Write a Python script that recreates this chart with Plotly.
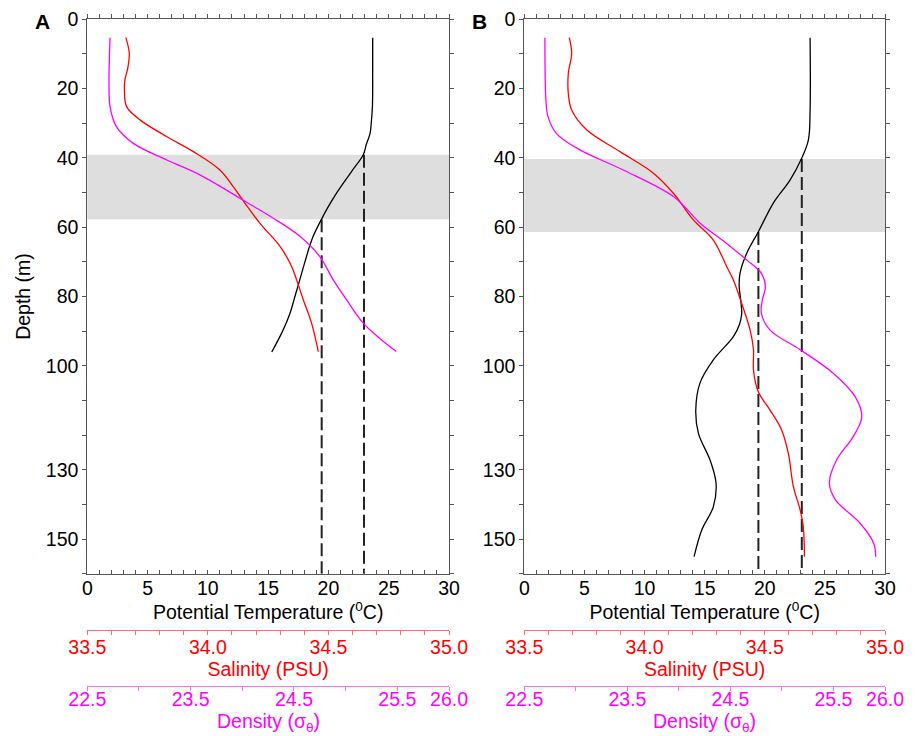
import plotly.graph_objects as go

# ---------------- data ----------------
# Panel A
depth_A_temp = [5.3, 15, 25, 30, 33, 36, 39, 44, 50, 54, 57.6, 63, 70, 75, 80, 85, 90, 96]
temp_A = [23.67, 23.67, 23.65, 23.55, 23.45, 23.15, 22.9, 21.9, 20.7, 20.0, 19.44, 18.69, 18.05, 17.64, 17.22, 16.8, 16.2, 15.3]

depth_A_sal = [5.3, 9.8, 14, 17.5, 20.4, 25.2, 29.1, 33.9, 38.2, 43.5, 48.3, 53.1, 58.9, 65.6, 71, 75.2, 81, 87.7, 95.9]
sal_A = [33.66, 33.674, 33.668, 33.656, 33.654, 33.663, 33.72, 33.83, 33.94, 34.05, 34.105, 34.154, 34.216, 34.30, 34.345, 34.368, 34.396, 34.43, 34.458]

depth_A_den = [5.3, 18.6, 25.2, 30.9, 35.8, 40.6, 44.9, 52.6, 57.4, 62.7, 68.5, 75.2, 81, 87.7, 91.6, 95.9]
den_A = [22.72, 22.71, 22.72, 22.78, 22.945, 23.27, 23.59, 24.03, 24.30, 24.56, 24.75, 24.88, 25.01, 25.17, 25.31, 25.49]

band_A = [39.1, 57.7]          # depth of shaded layer (m)
dash_A_temp = [19.44, 22.95]   # temperatures of dashed verticals
dash_A_top = [57.7, 39.1]      # start depth of dashed verticals

# Panel B
depth_B_temp = [5.3, 26.2, 34.8, 40.1, 46.4, 53.1, 61.3, 67.5, 73.3, 77, 81, 85, 88, 91.6, 98.3, 105, 112.8, 119.5, 127.2, 133.9, 140.7, 147.4, 155.1]
temp_B = [23.77, 23.77, 23.63, 23.07, 22.10, 20.7, 19.47, 18.5, 17.94, 17.87, 18.0, 18.08, 17.9, 17.39, 15.72, 14.61, 14.26, 14.48, 15.45, 15.95, 15.72, 14.76, 14.12]

depth_B_sal = [5.3, 9.8, 15.6, 21.4, 26.2, 31.9, 38.2, 44.4, 50.2, 57.9, 63.7, 71.4, 75.2, 82, 89.7, 95.4, 101.2, 107.5, 112.8, 118.5, 125.3, 134.9, 141.6, 146.4, 155.1]
sal_B = [33.687, 33.697, 33.683, 33.683, 33.697, 33.759, 33.898, 34.037, 34.12, 34.203, 34.286, 34.342, 34.369, 34.404, 34.439, 34.453, 34.453, 34.473, 34.522, 34.57, 34.598, 34.619, 34.647, 34.66, 34.665]

depth_B_den = [5.3, 23.3, 28.1, 32.9, 37.7, 43.5, 51.2, 58.9, 64.6, 69.5, 73.3, 77.2, 81, 84.8, 89.7, 95.4, 102.2, 108.9, 114.7, 120.5, 127.2, 133.9, 138.7, 145.5, 151.2, 155.1]
den_B = [22.70, 22.71, 22.73, 22.81, 23.04, 23.46, 23.95, 24.21, 24.46, 24.66, 24.80, 24.84, 24.81, 24.80, 24.885, 25.18, 25.50, 25.71, 25.775, 25.69, 25.53, 25.46, 25.52, 25.76, 25.89, 25.91]

band_B = [40.3, 61.4]
dash_B_temp = [19.47, 23.08]
dash_B_top = [61.4, 40.3]

# axis tick definitions
depth_ticks = list(range(0, 161, 10))
depth_labels = {0: "0", 20: "20", 40: "40", 60: "60", 80: "80", 100: "100", 130: "130", 150: "150"}
temp_ticks = list(range(0, 31))
sal_ticks = [round(33.5 + 0.1 * i, 1) for i in range(16)]
sal_labels = {33.5: "33.5", 34.0: "34.0", 34.5: "34.5", 35.0: "35.0"}
den_ticks = [22.5, 23.0, 23.5, 24.0, 24.5, 25.0, 25.5, 26.0]
den_labels = {22.5: "22.5", 23.5: "23.5", 24.5: "24.5", 25.5: "25.5", 26.0: "26.0"}

MAX_DEPTH = 160

# ---------------- geometry helpers ----------------
OFF = 8  # page body margin
W, H = 917 - OFF, 736 - OFF
def fx(p):
    return (p - OFF) / W
def fy(p):
    return 1 - (p - OFF) / H

FONT = "Liberation Sans, Arial, Helvetica, sans-serif"
FS = 19.5
AXC = "#555555"
RED = "#ff0000"
MAG = "#ff00ff"

fig = go.Figure()

panels = [
    dict(name="A", xs=(87.3, 449.0), dT=depth_A_temp, T=temp_A, dS=depth_A_sal, S=sal_A,
         dD=depth_A_den, D=den_A, band=band_A, dash_t=dash_A_temp, dash_top=dash_A_top,
         ax=["x", "x2", "x3", "x4"], yax="y", ytitle="Depth (m)"),
    dict(name="B", xs=(524.3, 885.0), dT=depth_B_temp, T=temp_B, dS=depth_B_sal, S=sal_B,
         dD=depth_B_den, D=den_B, band=band_B, dash_t=dash_B_temp, dash_top=dash_B_top,
         ax=["x5", "x6", "x7", "x8"], yax="y2", ytitle=""),
]

ydom = [fy(573.7), fy(19.3)]
layout = dict(
    width=W, height=H, margin=dict(l=0, r=0, t=0, b=0),
    paper_bgcolor="white", plot_bgcolor="white", showlegend=False,
    font=dict(family=FONT, size=FS, color="black"),
)

def axname(a):
    return "xaxis" if a == "x" else "xaxis" + a[1:]

def yname(a):
    return "yaxis" if a == "y" else "yaxis" + a[1:]

shapes = []
annotations = []
for p in panels:
    xt, xtop, xs, xd = p["ax"]
    ya = p["yax"]
    dom = [fx(p["xs"][0]), fx(p["xs"][1])]

    # shaded band
    shapes.append(dict(type="rect", xref=xt + " domain", yref=ya, x0=0, x1=1,
                       y0=p["band"][0], y1=p["band"][1], fillcolor="#dedede",
                       line=dict(width=0), layer="below"))

    # dashed verticals
    for t, top in zip(p["dash_t"], p["dash_top"]):
        fig.add_trace(go.Scatter(x=[t, t], y=[top, MAX_DEPTH], mode="lines", xaxis=xt, yaxis=ya,
                                 line=dict(color="#222222", width=2, dash="13px,5px"),
                                 hoverinfo="skip"))
    # profiles
    fig.add_trace(go.Scatter(x=p["S"], y=p["dS"], mode="lines", xaxis=xs, yaxis=ya,
                             line=dict(color=RED, width=1.3, shape="spline", smoothing=1.0)))
    fig.add_trace(go.Scatter(x=p["D"], y=p["dD"], mode="lines", xaxis=xd, yaxis=ya,
                             line=dict(color=MAG, width=1.3, shape="spline", smoothing=1.0)))
    fig.add_trace(go.Scatter(x=p["T"], y=p["dT"], mode="lines", xaxis=xt, yaxis=ya,
                             line=dict(color="black", width=1.3, shape="spline", smoothing=1.0)))
    # dummy trace to realise the top tick axis
    fig.add_trace(go.Scatter(x=[None], y=[None], mode="lines", xaxis=xtop, yaxis=ya,
                             showlegend=False, hoverinfo="skip"))

    # temperature (bottom) axis
    layout[axname(xt)] = dict(
        domain=dom, range=[0, 30], anchor=ya, side="bottom",
        tickmode="array", tickvals=temp_ticks,
        ticktext=[str(v) if v % 5 == 0 else "" for v in temp_ticks],
        ticks="inside", ticklen=4, tickcolor=AXC, tickwidth=1,
        showline=True, linecolor=AXC, linewidth=1, mirror=True,
        showgrid=False, zeroline=False, automargin=False,
        ticklabelstandoff=-3,
        tickfont=dict(size=FS, color="black"),
        title=dict(text="Potential Temperature (<sup>0</sup>C)", font=dict(size=FS, color="black"), standoff=0),
    )
    # top tick axis
    layout[axname(xtop)] = dict(
        overlaying=xt, range=[0, 30], anchor=ya, side="top",
        tickmode="array", tickvals=temp_ticks, showticklabels=False,
        ticks="outside", ticklen=4, tickcolor=AXC, tickwidth=1,
        showline=False, showgrid=False, zeroline=False, automargin=False,
    )
    # salinity axis
    layout[axname(xs)] = dict(
        overlaying=xt, range=[33.5, 35.0], anchor="free", position=fy(630), side="bottom",
        tickmode="array", tickvals=sal_ticks, ticktext=[sal_labels.get(v, "") for v in sal_ticks],
        ticks="outside", ticklen=4, tickcolor="#ff6a6a", tickwidth=1,
        showline=True, linecolor="#ff6a6a", linewidth=1,
        showgrid=False, zeroline=False, automargin=False,
        ticklabelstandoff=-4,
        tickfont=dict(size=FS, color=RED),
        title=dict(text="Salinity (PSU)", font=dict(size=FS, color=RED), standoff=0),
    )
    # density axis
    layout[axname(xd)] = dict(
        overlaying=xt, range=[22.5, 26.0], anchor="free", position=fy(686), side="bottom",
        tickmode="array", tickvals=den_ticks, ticktext=[den_labels.get(v, "") for v in den_ticks],
        ticks="outside", ticklen=4, tickcolor="#ff6aff", tickwidth=1,
        showline=True, linecolor="#ff6aff", linewidth=1,
        showgrid=False, zeroline=False, automargin=False,
        ticklabelstandoff=-8,
        tickfont=dict(size=FS, color=MAG),
    )
    # density axis title (placed as annotation for exact vertical position)
    annotations.append(dict(text="Density (σ<sub>θ</sub>)", xref="paper", yref="paper",
                            x=(dom[0] + dom[1]) / 2, y=fy(722), xanchor="center", yanchor="middle",
                            showarrow=False, font=dict(size=FS, color=MAG)))
    # depth axis
    layout[yname(ya)] = dict(
        domain=ydom, range=[MAX_DEPTH, 0], anchor=xt,
        tickmode="array", tickvals=depth_ticks, ticktext=[depth_labels.get(v, "") for v in depth_ticks],
        ticks="outside", ticklen=4, tickcolor=AXC, tickwidth=1,
        showline=True, linecolor=AXC, linewidth=1, mirror="ticks",
        showgrid=False, zeroline=False, automargin=False,
        tickfont=dict(size=FS, color="black"),
        title=dict(text=p["ytitle"], font=dict(size=FS, color="black"), standoff=10),
    )
    # panel letter
    annotations.append(dict(text="<b>%s</b>" % p["name"], xref="paper", yref="paper",
                            x=fx(p["xs"][0] - 45), y=1.0, xanchor="center", yanchor="top",
                            showarrow=False, font=dict(size=21, color="black")))

layout["shapes"] = shapes
layout["annotations"] = annotations
fig.update_layout(**layout)
fig.write_html("out.html")
